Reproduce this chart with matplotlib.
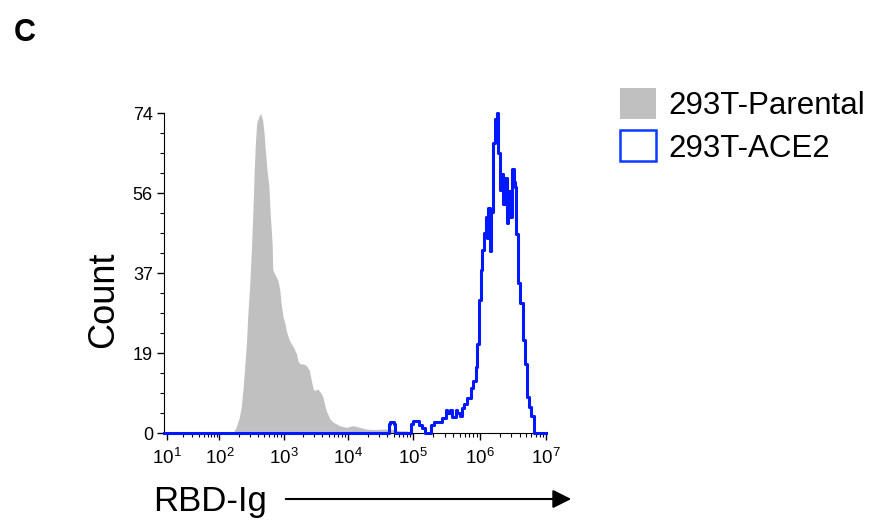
import numpy as np
import matplotlib
matplotlib.use('Agg')
import matplotlib.pyplot as plt
from matplotlib.patches import Patch

plt.rcParams['font.family'] = ['Liberation Sans', 'DejaVu Sans']
plt.rcParams['mathtext.fontset'] = 'custom'
plt.rcParams['mathtext.rm'] = 'Liberation Sans'

# 293T-Parental: log10(RBD-Ig) vs count
parental_log = [2.21, 2.26, 2.31, 2.34, 2.365, 2.39, 2.42, 2.44, 2.47, 2.495, 2.52, 2.54,
                2.56, 2.58, 2.615, 2.64, 2.67, 2.69, 2.71, 2.74, 2.77, 2.79, 2.82, 2.83,
                2.87, 2.91, 2.94, 2.96, 2.99, 3.02, 3.04, 3.07, 3.09, 3.12, 3.15, 3.20,
                3.22, 3.25, 3.30, 3.35, 3.40, 3.43, 3.46, 3.48, 3.53, 3.59, 3.61, 3.64,
                3.66, 3.72, 3.77, 3.82, 3.87, 3.97, 4.08, 4.18, 4.28, 4.39, 4.54, 4.64,
                4.80, 4.90, 4.95]
parental_count = [0, 1.3, 3.6, 6.0, 9.8, 14.5, 20.6, 26.8, 33.8, 41.5, 50.8, 60.1,
                  67.1, 71.7, 73.2, 73.9, 72.5, 70.1, 66.3, 60.9, 57.0, 50.8, 43.9, 37.7,
                  36.5, 35.3, 33.0, 29.9, 26.8, 25.3, 23.7, 22.2, 21.4, 20.6, 19.9, 18.3,
                  16.8, 16.0, 16.0, 15.6, 14.5, 12.1, 10.2, 9.8, 10.2, 9.0, 8.3, 6.3,
                  5.2, 3.2, 2.5, 2.1, 1.7, 1.3, 1.7, 1.3, 0.9, 0.8, 0.9, 0.9,
                  0.5, 0.5, 0]

# 293T-ACE2
ace2_log = [0.94, 4.62, 4.646, 4.697, 4.723, 4.969, 4.99, 5.08, 5.13, 5.17, 5.26, 5.31,
            5.36, 5.43, 5.485, 5.51, 5.56, 5.585, 5.636, 5.66, 5.71, 5.74, 5.76, 5.81,
            5.864, 5.905, 5.94, 5.965, 5.99, 6.015, 6.04, 6.065, 6.09, 6.11, 6.126, 6.16,
            6.177, 6.197, 6.227, 6.258, 6.283, 6.308, 6.333, 6.359, 6.383, 6.409, 6.429,
            6.45, 6.48, 6.51, 6.535, 6.55, 6.58, 6.61, 6.647, 6.68, 6.71, 6.747, 6.78,
            6.82, 7.0]
ace2_count = [0, 2.0, 2.6, 2.0, 0, 2.0, 2.8, 1.8, 1.2, 0, 1.9, 2.5,
              2.6, 3.5, 5.4, 4.6, 5.4, 3.6, 5.4, 4.6, 3.9, 5.8, 6.6, 8.2,
              10.4, 12.0, 15.2, 20.6, 30.7, 37.7, 42.3, 46.2, 50.0, 45.0, 52.0, 42.0,
              51.0, 67.0, 72.5, 74.0, 64.7, 56.2, 60.0, 53.0, 59.0, 48.5, 56.0,
              50.0, 61.0, 58.0, 57.0, 46.0, 34.6, 30.0, 21.4, 16.0, 8.3, 6.0, 4.0,
              0, 0]

decades = [1, 2, 3, 4, 5, 6, 7]
y_ticks = [0, 18.5, 37, 55.5, 74]
y_labels = ['0', '19', '37', '56', '74']

# biexponential-like display: first decade compressed
knot_dec = [0, 1, 2, 3, 4, 5, 6, 7]
knot_pos = [-52, 0, 52, 116, 180, 245, 311, 377]


def fwd(x):
    return np.interp(np.log10(np.clip(x, 1e-3, None)), knot_dec, knot_pos)


def inv(u):
    return 10 ** np.interp(u, knot_pos, knot_dec)


fig = plt.figure(figsize=(8.74, 5.21), dpi=100)
ax = fig.add_axes([164 / 874, 1 - 433 / 521, 382 / 874, 320 / 521])
ax.set_xscale('function', functions=(fwd, inv))

ax.fill_between(10 ** np.array(parental_log), parental_count, color='#c0c0c0', lw=0, zorder=1)
ax.step(10 ** np.array(ace2_log), ace2_count, where='post', color='#0018ff', lw=2.2,
        zorder=3, clip_on=False)

ax.set_xlim(10 ** 0.94, 10 ** 7.0)
ax.set_ylim(0, 74)
for s in ['top', 'right']:
    ax.spines[s].set_visible(False)

ax.set_xticks([10 ** d for d in decades])
ax.set_xticklabels([r'$\mathregular{10^{%d}}$' % d for d in decades], fontsize=13.5)
ax.set_xticks([m * 10 ** k for k in range(1, 7) for m in range(2, 10)], minor=True)
ax.set_yticks(y_ticks)
ax.set_yticklabels(y_labels, fontsize=13)
ax.set_yticks(np.arange(0, 74.01, 18.5 / 4), minor=True)
ax.tick_params(axis='both', which='major', length=5, width=1, pad=3)
ax.tick_params(axis='both', which='minor', length=3, width=0.8)
ax.tick_params(axis='x', which='major', pad=6)

fig.text(104 / 874, 1 - 300 / 521, 'Count', rotation=90, ha='center', va='center', fontsize=26)
fig.text(153 / 874, 10 / 521, 'RBD-Ig', ha='left', va='baseline', fontsize=25)
ax.annotate('', xy=(574, 22), xytext=(283, 22), xycoords='figure pixels',
            textcoords='figure pixels',
            arrowprops=dict(arrowstyle='-|>', color='black', lw=1.5, mutation_scale=28))
fig.text(14 / 874, 1 - 41 / 521, 'C', fontweight='bold', fontsize=22, va='baseline')

handles = [Patch(facecolor='#c0c0c0', edgecolor='none', label='293T-Parental'),
           Patch(facecolor='white', edgecolor='#0a3cff', lw=1.8, label='293T-ACE2')]
fig.legend(handles=handles, loc='upper left', bbox_to_anchor=(620 / 874, 1 - 88 / 521),
           frameon=False, fontsize=22.5, handlelength=1.15, handleheight=1.15,
           handletextpad=0.4, labelspacing=0.3, borderaxespad=0, borderpad=0)

fig.savefig('out.png', dpi=100)
